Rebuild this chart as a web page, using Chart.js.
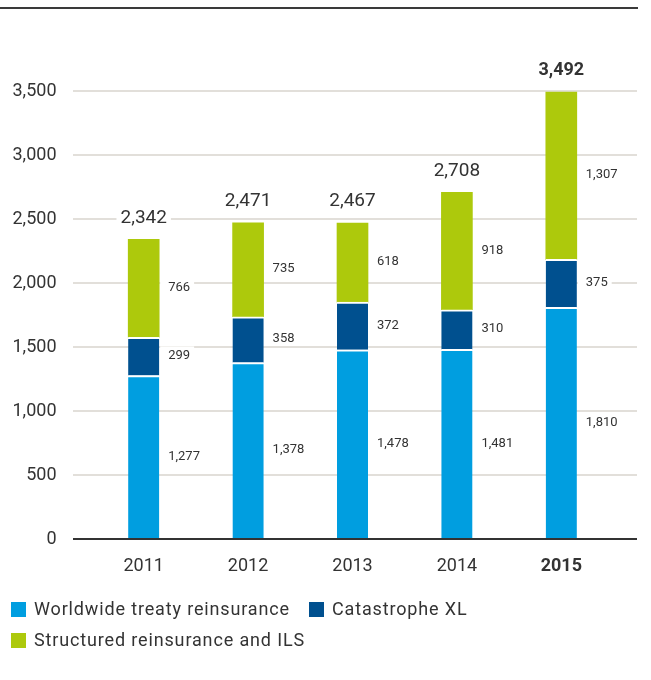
<!DOCTYPE html>
<html>
<head>
<meta charset="utf-8">
<script src="https://cdn.jsdelivr.net/npm/chart.js@4.4.1/dist/chart.umd.min.js"></script>
<style>
  html, body { margin: 0; padding: 0; background: #fff; }
  #wrap { position: relative; width: 651px; height: 680px; overflow: hidden; font-family: Roboto, sans-serif; }
  #c { position: absolute; left: 0; top: 0; }
  .sq { position: absolute; width: 15px; height: 15px; }
  .lt { position: absolute; font-size: 18px; color: #333; line-height: 20px; white-space: nowrap; letter-spacing: 0.85px; }
</style>
</head>
<body>
<div id="wrap">
  <canvas id="c" width="651" height="680"></canvas>
  <div class="sq" style="left:11px;top:602px;background:#009ee0"></div>
  <div class="lt" style="left:34px;top:599px">Worldwide treaty reinsurance</div>
  <div class="sq" style="left:309px;top:602px;background:#00508f"></div>
  <div class="lt" style="left:332px;top:599px">Catastrophe XL</div>
  <div class="sq" style="left:11px;top:633px;background:#adc90c"></div>
  <div class="lt" style="left:34px;top:630px">Structured reinsurance and ILS</div>
</div>
<script>
const years = ['2011', '2012', '2013', '2014', '2015'];
const worldwide = [1277, 1378, 1478, 1481, 1810];
const catXL = [299, 358, 372, 310, 375];
const structured = [766, 735, 618, 918, 1307];
const totals = [2342, 2471, 2467, 2708, 3492];
const yTicks = [0, 500, 1000, 1500, 2000, 2500, 3000, 3500];

const TEXT = '#333';
const GRID = '#c6bfb6';
const fmt = v => v.toLocaleString('en-US');

const overlay = {
  id: 'overlay',
  beforeDatasetsDraw(chart) {
    const ctx = chart.ctx, y = chart.scales.y;
    ctx.save();
    // top rule
    ctx.fillStyle = '#3a3a3a';
    ctx.fillRect(0, 7, 638, 2);
    ctx.strokeStyle = GRID;
    ctx.lineWidth = 1.2;
    yTicks.forEach(v => {
      if (v === 0) return;
      const py = y.getPixelForValue(v);
      ctx.beginPath();
      ctx.moveTo(73, py);
      ctx.lineTo(637, py);
      ctx.stroke();
    });
    ctx.restore();
  },
  afterDatasetsDraw(chart) {
    const ctx = chart.ctx, y = chart.scales.y;
    ctx.save();
    // baseline
    ctx.fillStyle = '#333';
    ctx.fillRect(73, y.getPixelForValue(0) - 1, 564, 2);
    // segment labels
    ctx.font = '13px Roboto';
    ctx.textAlign = 'left';
    ctx.textBaseline = 'alphabetic';
    chart.data.datasets.forEach((ds, di) => {
      const meta = chart.getDatasetMeta(di);
      meta.data.forEach((bar, i) => {
        const txt = fmt(ds.data[i]);
        const right = bar.x + bar.width / 2;
        const cy = (bar.y + bar.base) / 2 - 2;
        const w = ctx.measureText(txt).width;
        ctx.fillStyle = '#fff';
        ctx.fillRect(right + 1, cy - 8, w + 12, 16);
        ctx.fillStyle = TEXT;
        ctx.fillText(txt, right + 9, cy + 4.6);
      });
    });
    // totals
    const top = chart.getDatasetMeta(2);
    ctx.textAlign = 'center';
    top.data.forEach((bar, i) => {
      const bold = i === 4;
      ctx.font = (bold ? 'bold 18px' : '19px') + ' Roboto';
      const txt = fmt(totals[i]);
      const w = ctx.measureText(txt).width;
      const cy = bar.y - 23.5;
      ctx.fillStyle = '#fff';
      ctx.fillRect(bar.x - w / 2 - 4, cy - 10, w + 8, 20);
      ctx.fillStyle = TEXT;
      ctx.fillText(txt, bar.x, cy + 6.8);
    });
    ctx.restore();
  }
};

const sep = { top: 2, right: 0, bottom: 0, left: 0 };

new Chart(document.getElementById('c'), {
  type: 'bar',
  data: {
    labels: years,
    datasets: [
      { label: 'Worldwide treaty reinsurance', data: worldwide, backgroundColor: '#009ee0', borderColor: '#fff', borderWidth: sep, borderSkipped: false },
      { label: 'Catastrophe XL', data: catXL, backgroundColor: '#00508f', borderColor: '#fff', borderWidth: sep, borderSkipped: false },
      { label: 'Structured reinsurance and ILS', data: structured, backgroundColor: '#adc90c', borderWidth: 0 }
    ]
  },
  options: {
    responsive: false,
    devicePixelRatio: 1,
    animation: false,
    layout: { padding: { top: 91, right: 37.5, left: 0, bottom: 0 } },
    plugins: { legend: { display: false }, tooltip: { enabled: false } },
    datasets: { bar: { barThickness: 31 } },
    scales: {
      x: {
        stacked: true,
        grid: { display: false, drawTicks: false },
        border: { display: false },
        ticks: {
          padding: 17,
          color: TEXT,
          font: (c) => ({ family: 'Roboto', size: 18, weight: c.index === 4 ? 'bold' : 'normal' })
        },
        afterFit: (s) => { s.height = 141; }
      },
      y: {
        stacked: true,
        min: 0,
        max: 3500,
        grid: { display: false, drawTicks: false },
        border: { display: false },
        afterBuildTicks: (s) => { s.ticks = yTicks.map(v => ({ value: v })); },
        ticks: {
          padding: 35,
          color: TEXT,
          font: { family: 'Roboto', size: 18 },
          callback: (v) => fmt(v)
        },
        afterFit: (s) => { s.width = 91.5; }
      }
    }
  },
  plugins: [overlay]
});
</script>
</body>
</html>
